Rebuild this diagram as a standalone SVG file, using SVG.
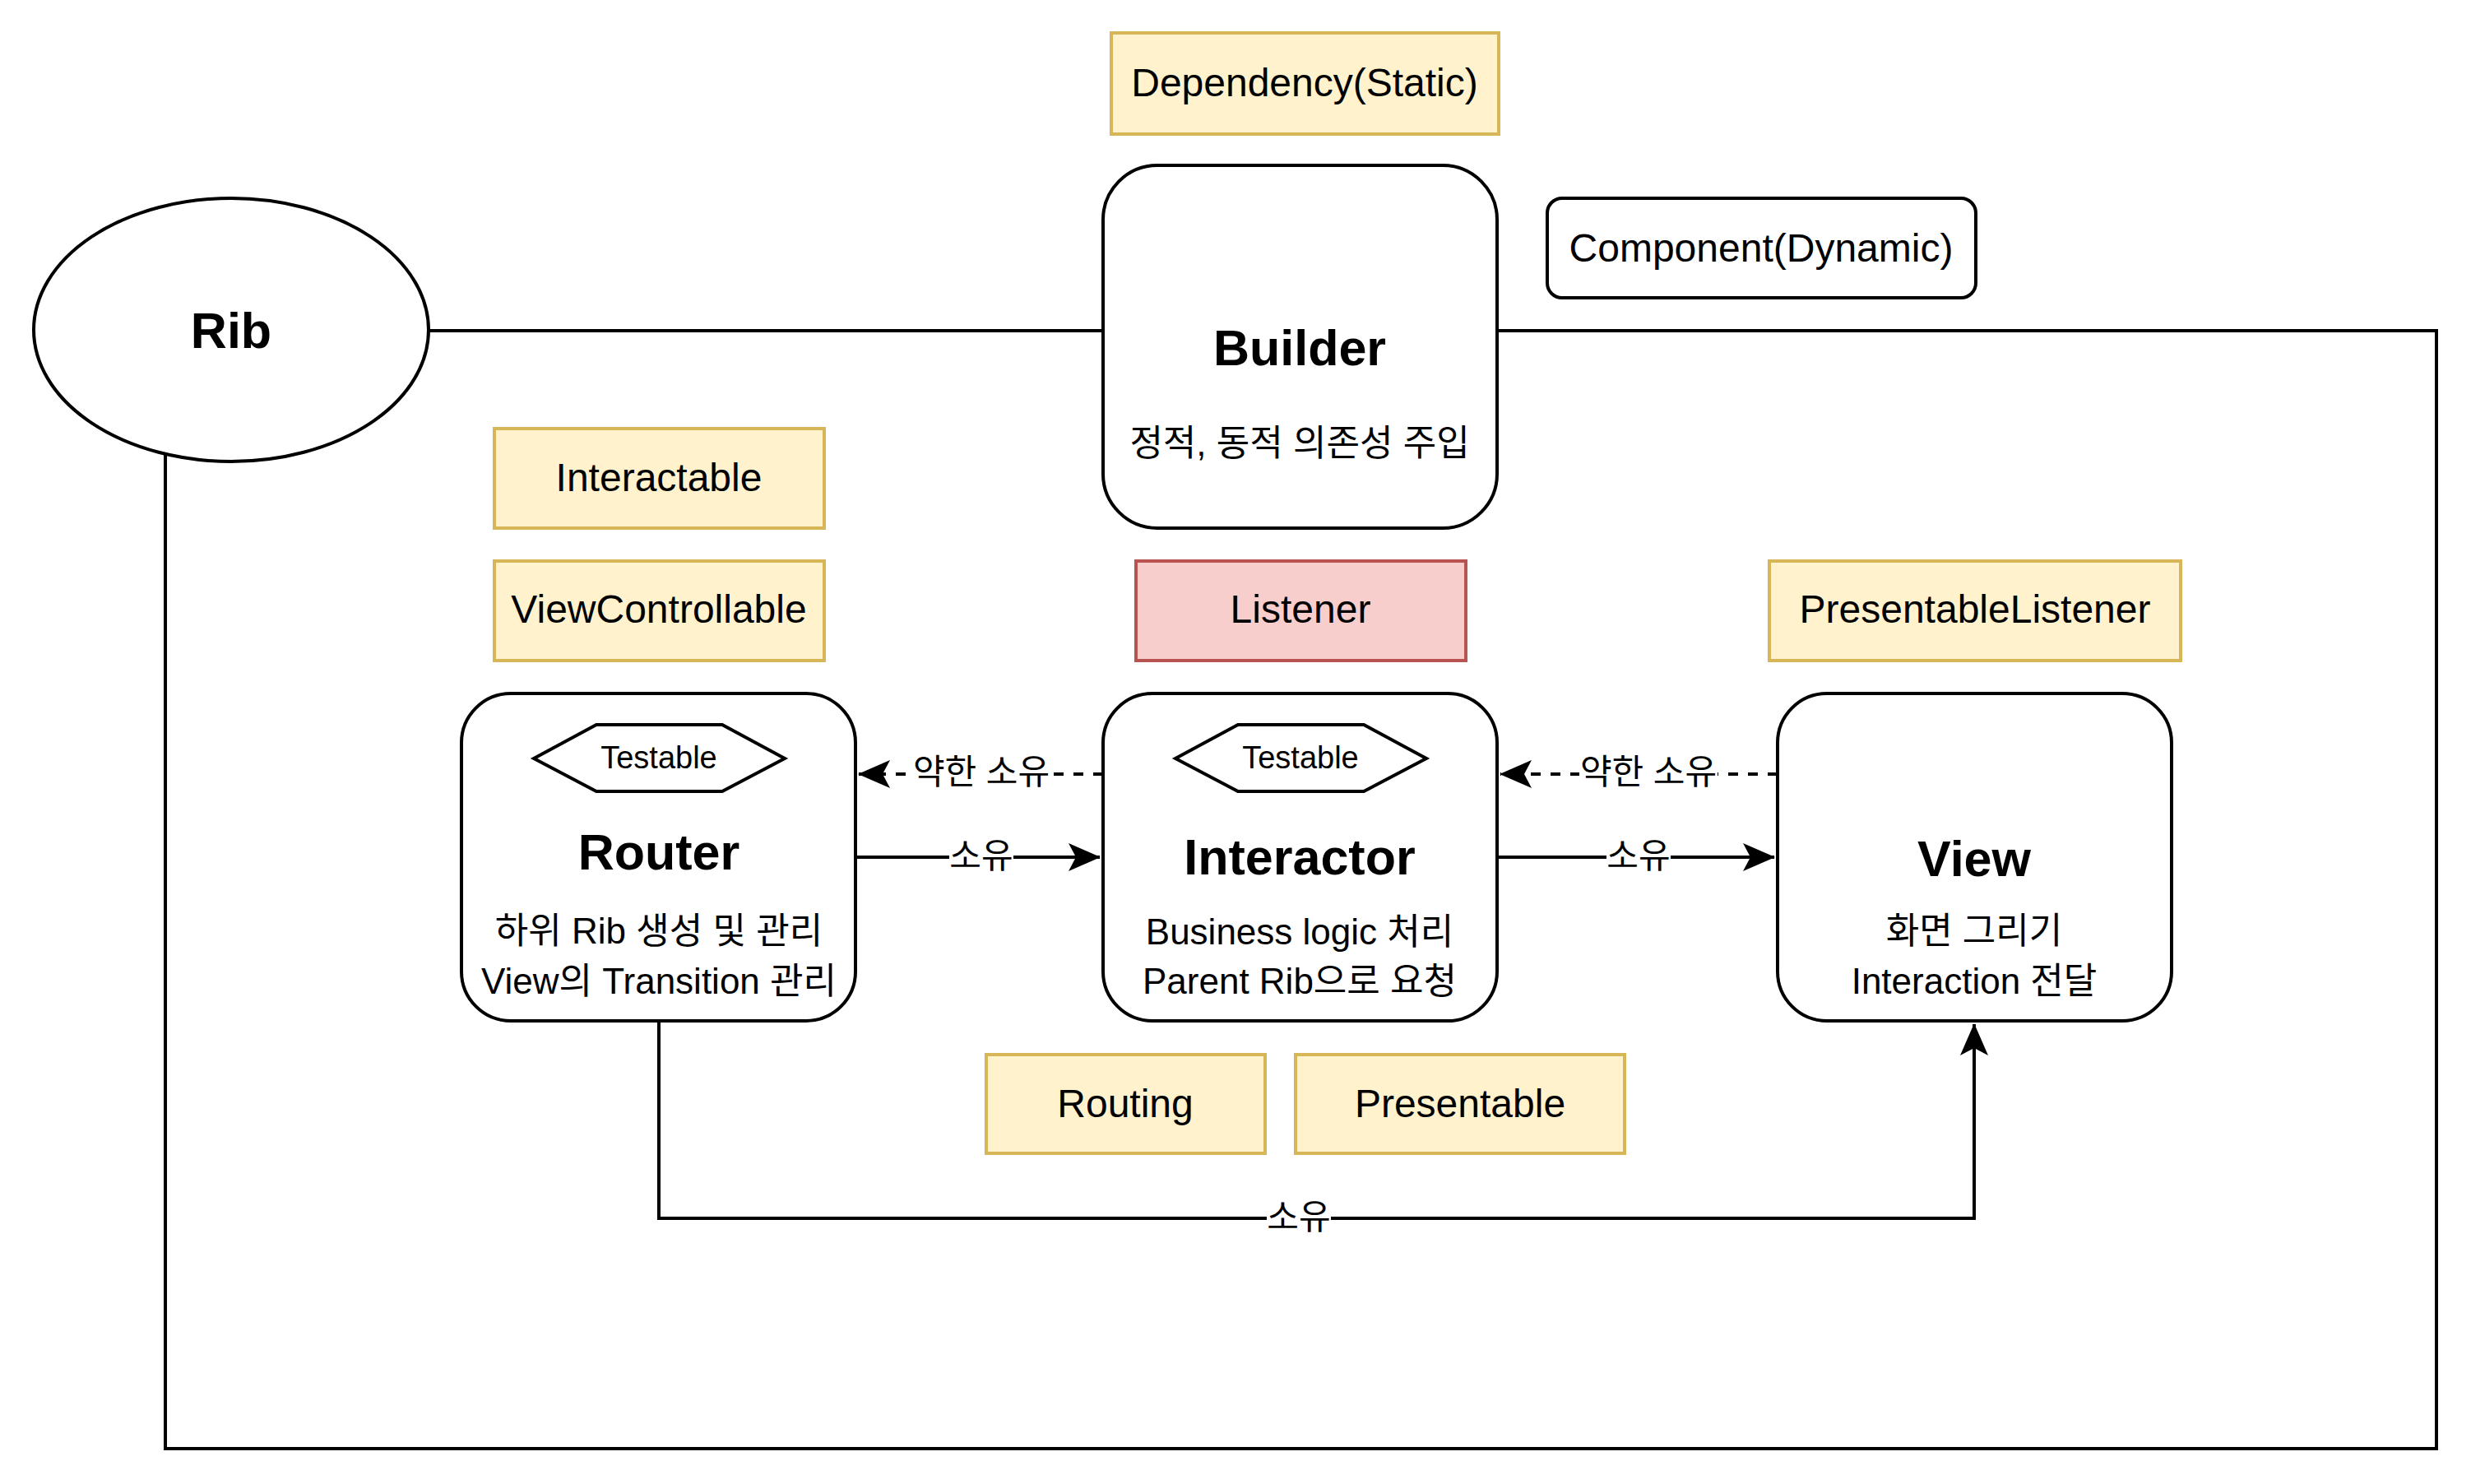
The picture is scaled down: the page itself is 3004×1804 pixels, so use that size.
<svg xmlns="http://www.w3.org/2000/svg" width="3004" height="1804" viewBox="0 0 3004 1804">
<defs>
<style>
text{font-family:"Liberation Sans","Noto Sans CJK KR",Arial,sans-serif;fill:#000;text-anchor:middle;dominant-baseline:central}
.node{fill:#fff;stroke:#000;stroke-width:4}
.yel{fill:#fff2cc;stroke:#d6b656;stroke-width:4}
.red{fill:#f8cecc;stroke:#b85450;stroke-width:4}
.lbl{font-size:48px}
.title{font-size:61px;font-weight:bold}
.sub{font-size:44px}
.tst{font-size:38px}
.edge{fill:none;stroke:#000;stroke-width:4}
.dash{stroke-dasharray:12 12}
.elbl{font-size:42px}
</style>
<marker id="arr" markerUnits="userSpaceOnUse" markerWidth="40" markerHeight="40" viewBox="0 0 40 40" refX="38" refY="20" orient="auto">
<path d="M0,3 L39,20 L0,37 L9,20 Z" fill="#000"/>
</marker>
</defs>
<rect width="3004" height="1804" fill="#fff"/>

<g id="connectors">
<path class="edge" d="M521,402 L1341,402"/>
<path class="edge" d="M1820,402 L2962,402 L2962,1761 L201,1761 L201,552"/>
<path class="edge dash" d="M1341,941 L1044,941" marker-end="url(#arr)"/>
<path class="edge" d="M1040,1042 L1337,1042" marker-end="url(#arr)"/>
<path class="edge dash" d="M2161,941 L1824,941" marker-end="url(#arr)"/>
<path class="edge" d="M1820,1042 L2157,1042" marker-end="url(#arr)"/>
<path class="edge" d="M801,1241 L801,1481 L2400,1481 L2400,1245" marker-end="url(#arr)"/>
<rect x="1108" y="915" width="168" height="52" fill="#fff"/>
<text class="elbl" x="1193" y="938">약한 소유</text>
<rect x="1154" y="1016" width="78" height="52" fill="#fff"/>
<text class="elbl" x="1193" y="1040">소유</text>
<rect x="1920" y="915" width="168" height="52" fill="#fff"/>
<text class="elbl" x="2004" y="938">약한 소유</text>
<rect x="1953" y="1016" width="78" height="52" fill="#fff"/>
<text class="elbl" x="1992" y="1040">소유</text>
<rect x="1540" y="1455" width="78" height="52" fill="#fff"/>
<text class="elbl" x="1579" y="1479">소유</text>
</g>

<g id="rib">
<ellipse class="node" cx="281" cy="401" rx="240" ry="160"/>
<text class="title" x="281" y="402">Rib</text>
</g>

<g id="dependency">
<rect class="yel" x="1351" y="40" width="471" height="123"/>
<text class="lbl" x="1586" y="100">Dependency(Static)</text>
</g>

<g id="builder">
<rect class="node" x="1341" y="201" width="479" height="441" rx="66" ry="66"/>
<text class="title" x="1580" y="423">Builder</text>
<text class="sub" x="1580" y="538">정적, 동적 의존성 주입</text>
</g>

<g id="component">
<rect class="node" x="1881" y="241" width="521" height="121" rx="18" ry="18"/>
<text class="lbl" x="2141" y="301">Component(Dynamic)</text>
</g>

<g id="interactable">
<rect class="yel" x="601" y="521" width="401" height="121"/>
<text class="lbl" x="801" y="580">Interactable</text>
</g>

<g id="viewcontrollable">
<rect class="yel" x="601" y="682" width="401" height="121"/>
<text class="lbl" x="801" y="740">ViewControllable</text>
</g>

<g id="listener">
<rect class="red" x="1381" y="682" width="401" height="121"/>
<text class="lbl" x="1581" y="740">Listener</text>
</g>

<g id="presentablelistener">
<rect class="yel" x="2151" y="682" width="500" height="121"/>
<text class="lbl" x="2401" y="740">PresentableListener</text>
</g>

<g id="router">
<rect class="node" x="561" y="843" width="479" height="398" rx="60" ry="60"/>
<polygon class="node" points="649,922 725,881 878,881 954,922 878,962 725,962"/>
<text class="tst" x="801" y="921">Testable</text>
<text class="title" x="801" y="1036">Router</text>
<text class="sub" x="801" y="1131">하위 Rib 생성 및 관리</text>
<text class="sub" x="801" y="1192">View의 Transition 관리</text>
</g>

<g id="interactor">
<rect class="node" x="1341" y="843" width="479" height="398" rx="60" ry="60"/>
<polygon class="node" points="1429,922 1505,881 1658,881 1734,922 1658,962 1505,962"/>
<text class="tst" x="1581" y="921">Testable</text>
<text class="title" x="1580" y="1042">Interactor</text>
<text class="sub" x="1580" y="1132">Business logic 처리</text>
<text class="sub" x="1580" y="1192">Parent Rib으로 요청</text>
</g>

<g id="view">
<rect class="node" x="2161" y="843" width="479" height="398" rx="60" ry="60"/>
<text class="title" x="2400" y="1044">View</text>
<text class="sub" x="2400" y="1131">화면 그리기</text>
<text class="sub" x="2400" y="1192">Interaction 전달</text>
</g>

<g id="routing">
<rect class="yel" x="1199" y="1282" width="339" height="120"/>
<text class="lbl" x="1368" y="1341">Routing</text>
</g>

<g id="presentable">
<rect class="yel" x="1575" y="1282" width="400" height="120"/>
<text class="lbl" x="1775" y="1341">Presentable</text>
</g>
</svg>
